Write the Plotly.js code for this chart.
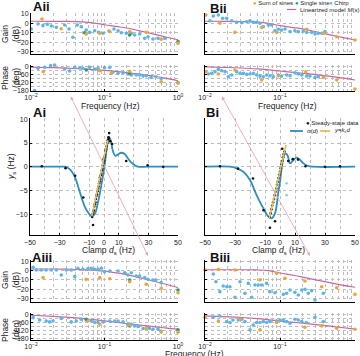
<!DOCTYPE html>
<html><head><meta charset="utf-8">
<script src="https://cdn.plot.ly/plotly-3.0.1.min.js"></script>
<style>html,body{margin:0;padding:0;background:#fff}#chart{width:360px;height:356px}</style>
</head><body><div id="chart"></div>
<script>
// ---------- Linearized model M(s) ----------
const modelFreq = [0.01,0.02,0.03,0.05,0.07,0.1,0.15,0.2,0.3,0.5,0.7,1.0];
const aiiModelGain = [2.2,2.1,2.0,1.5,0.5,-1.5,-3.5,-5,-8,-12,-14.8,-17.5];
const aiiModelPhase = [-3,-7,-11,-17,-22,-28,-37,-45,-57,-75,-90,-108];
const biiModelGain = [2.2,2.1,1.9,1.3,0,-2.5,-4.5,-6,-9,-12.8,-15.2,-17.8];
const biiModelPhase = [-1,-6,-10,-17,-24,-33,-43,-50,-60,-76,-88,-102];
const aiiiModelGain = [1.8,1.8,1.6,1.2,0.5,-0.5,-2.5,-4.2,-7.5,-12,-15,-18.3];
const aiiiModelPhase = [-2,-10,-16,-26,-35,-45,-56,-64,-76,-90,-99,-107];
const biiiModelGain = [1,1,1,0.8,0,-2.5,-5,-7,-10,-13.5,-16,-18];
const biiiModelPhase = [-7,-14,-19,-28,-36,-45,-55,-62,-72,-86,-96,-107];

// ---------- Aii ----------
const aiiGainChirpF = [0.0101,0.01245,0.01456,0.0167,0.0189,0.0221,0.0287,0.0329,0.0372,0.0426,0.0483,0.0565,0.0628,0.0736,0.0834,0.0955,0.115,0.1346,0.153,0.169,0.198,0.232,0.257,0.301,0.352,0.391,0.457,0.535,0.659];
const aiiGainChirpV = [-6.1,-0.7,-2.5,-1.1,-2.9,-4.3,-1.8,-6.1,-14.9,-1.8,-3.6,-7.1,-9.6,-7.9,-9.6,-10.6,-8.2,-6.1,-7.9,-10,-10.6,-10.6,-12.4,-11.4,-16,-14.3,-16.7,-16,-16];
const aiiGainSosF = [0.0097,0.0141,0.0258,0.0565,0.086,0.118,0.22,0.37,0.59,1.0];
const aiiGainSosV = [1.7,4.6,-5.8,-11.4,-10.6,-8.9,-8.9,-9.6,-17,-21.3];
const aiiGainSingleF = [0.0097,0.0536,0.22,1.0];
const aiiGainSingleV = [-6.4,-10,-12.4,-19.5];
const aiiPhaseChirpF = [0.0112,0.01245,0.0154,0.0185,0.021,0.0287,0.0336,0.0393,0.046,0.051,0.0628,0.0736,0.0816,0.1,0.118,0.13,0.153,0.179,0.208,0.232,0.27,0.301,0.335,0.37,0.43,0.5,0.59];
const aiiPhaseChirpV = [-182,-12,-5,8,13,-18,-33,-5,-8,-12,-5,-18,-12,-8,-5,-43,-51,-46,-56,-64,-64,-64,-72,-69,-82,-77,-90];
const aiiPhaseSosF = [0.0097,0.0147,0.0258,0.086,0.124,0.22,0.59,1.0];
const aiiPhaseSosV = [-82,-38,31,-31,-51,-35,-115,-125];
const aiiPhaseSingleF = [0.0097,0.0565,0.22,1.0];
const aiiPhaseSingleV = [-38,-25,-51,-123];

// ---------- Bii ----------
const biiGainChirpF = [0.01166,0.0129,0.01506,0.0172,0.01946,0.0227,0.0264,0.0308,0.036,0.0398,0.044,0.0489,0.0541,0.06,0.0699,0.0774,0.0857,0.095,0.105,0.1166,0.136,0.158,0.1755,0.2047,0.227,0.264,0.293,0.324,0.36,0.398];
const biiGainChirpV = [2.8,7.8,8.8,5.3,5.3,2.8,1.1,0.7,1.7,2.8,1.1,1.1,0,-3.6,-1.8,-1.8,-7.9,-6.4,-7.1,-6.1,-8.9,-7.9,-8.9,-8.2,-9.6,-9.6,-11.4,-10.6,-10.6,-8.9];
const biiGainSosF = [0.0103,0.0158,0.0251,0.057,0.0903,0.227,0.378,0.57,1.0];
const biiGainSosV = [8.8,0,-9.6,-4.3,-9.6,-6.4,-10.6,-14.3,-17.8];
const biiPhaseChirpF = [0.0111,0.0123,0.0136,0.01506,0.0167,0.0185,0.0205,0.0227,0.0264,0.0293,0.0324,0.036,0.0398,0.044,0.0489,0.0541,0.06,0.0664,0.0736,0.0815,0.095,0.105,0.1227,0.136,0.158,0.1755,0.1946,0.227,0.251,0.293,0.324];
const biiPhaseChirpV = [-56,-51,-38,-20,-31,-38,-77,-64,-38,-51,-51,-59,-56,-51,-64,-72,-77,-64,-69,-77,-64,-72,-64,-69,-46,-56,-64,-72,-72,-82,-77];
const biiPhaseSosF = [0.0103,0.01506,0.0251,0.057,0.095,0.22,0.378,0.57,1.0];
const biiPhaseSosV = [-38,-56,-25,-102,-69,-40,-82,-102,-171];

// ---------- Aiii ----------
const aiiiGainChirpF = [0.0107,0.0118,0.0138,0.0161,0.0189,0.0221,0.0258,0.0302,0.0353,0.0393,0.0435,0.0509,0.0597,0.0662,0.0736,0.0816,0.0906,0.1,0.118,0.153,0.188,0.208,0.232,0.27,0.301,0.352,0.391,0.457,0.5,0.59];
const aiiiGainChirpV = [3.7,0.8,0.8,0.8,0.8,0.8,-4.7,0.8,0.8,-6.5,2.6,1.5,2.2,2.6,1.5,1.5,2.6,-1.1,-0.3,-0.3,-2.2,-4.7,-2.2,-5.8,-5.8,-7.6,-9.4,-10.1,-10.1,-13];
const aiiiGainSosF = [0.0097,0.0146,0.0565,0.086,0.118,0.22,0.37,0.59,1.0];
const aiiiGainSosV = [0.8,-7.6,-9.4,-7.6,-8.7,-12,-14.8,-19.1,-23.9];
const aiiiGainSingleF = [0.0097,0.22,1.0];
const aiiiGainSingleV = [8,-10.1,-21];
const aiiiPhaseChirpF = [0.0107,0.0131,0.0161,0.0179,0.0199,0.0258,0.0353,0.0413,0.0483,0.0565,0.0662,0.0736,0.0816,0.0955,0.118,0.138,0.153,0.179,0.208,0.232,0.257,0.285,0.335,0.37,0.41,0.457,0.535,0.59];
const aiiiPhaseChirpV = [-20,-37.5,-45,-52,-45,-27,-52,-45,-32,-37.5,-45,-57,-57,-52,-45,-45,-45,-52,-70,-70,-82,-87,-102,-102,-102,-107,-107,-120];
const aiiiPhaseSosF = [0.0097,0.0142,0.0597,0.086,0.22,0.37,0.59,1.0];
const aiiiPhaseSosV = [-20,37,-45,-70,-77,-102,-127,-130];
const aiiiPhaseSingleF = [0.0097,0.0565,0.22,1.0];
const aiiiPhaseSingleV = [-7.5,-32,-82,-112];

// ---------- Biii ----------
const biiiGainChirpF = [0.0129,0.014,0.0158,0.0175,0.0195,0.0215,0.0251,0.0293,0.0341,0.0378,0.0419,0.0464,0.0514,0.057,0.0664,0.0736,0.0857,0.1107,0.1227,0.136,0.158,0.1755,0.1946,0.2154,0.2387,0.264,0.293,0.378];
const biiiGainChirpV = [-3.6,-12,-22.8,-16.6,-17.4,-17.4,-28.9,-12,-24.6,-13.8,-28.9,-15.5,-15.5,-15.5,-13.8,-22.8,-23.9,-25.7,-24.6,-21,-23.5,-26.4,-21,-20.3,-24.6,-21.7,-31.8,-24.6];
const biiiGainSosF = [0.01,0.0151,0.0251,0.0541,0.0903,0.1166,0.215,0.36,0.57,1.0];
const biiiGainSosV = [0.8,1.5,0.8,-10,-2.9,-8.3,-11.2,-17.4,-18.5,-25.7];
const biiiPhaseChirpF = [0.0129,0.0158,0.0195,0.0215,0.0236,0.0278,0.0308,0.0341,0.0398,0.044,0.0489,0.0541,0.06,0.0664,0.0736,0.0903,0.1,0.1107,0.1227,0.136,0.158,0.1755,0.1946,0.2247,0.293,0.378];
const biiiPhaseChirpV = [-17,-7.5,-50,-57,-37.5,-37.5,-32,-50,-112,-75,-57,-57,-50,-57,-50,-45,-37.5,-37.5,-50,-62,-32,-37.5,-50,-57,-17,-50];
const biiiPhaseSosF = [0.01,0.0151,0.0293,0.0541,0.0903,0.215,0.36,0.57,1.0];
const biiiPhaseSosV = [-17,-45,-32,-112,-57,-92,-82,-100,-107];

// ---------- Ai / Bi steady state ----------
const aiSigmaD = [-50,-30,-26.6,-23.2,-19.8,-16.4,-13,-10.4,-8.6,-6.3,-4,-1.8,0.45,2.2,3.4,4.5,6.1,7.7,9.5,11.7,13.9,16.1,18.4,20.7,23,30,50];
const aiSigmaY = [0,0,0,-0.5,-2.1,-5.3,-8.4,-9.8,-10.4,-10,-7.4,-3.9,0.4,4.6,6.3,5.6,3.2,2.3,2.6,2.95,2.7,1.8,0.9,0.35,0,0,0];
const aiLinD = [-8.2,2.5];
const aiLinY = [-10.5,5.6];
const aiDataD = [-42,-26,-19.5,-14,-7.4,-8,-7.6,-7.2,-7,-6.6,-6.2,-5.8,-5.5,-5.1,-4.8,-4.4,-4,-3.7,-3.3,-3,-2.6,-2.2,-1.9,-1.5,-1.2,-0.8,-0.4,0,0.3,0.7,1,1.4,1.8,2.2,2.6,3,3.5,3.2,-2.8,-0.2,4.2,5.5,15,29.5,40];
const aiDataY = [0.1,-0.3,-1.9,-6.5,-12.3,-10.6,-10,-9.5,-9.2,-8.4,-7.9,-7.5,-6.8,-6.2,-5.8,-5.2,-4.6,-4.2,-3.5,-3.1,-2.6,-1.8,-1.5,-0.8,-0.5,0.3,0.8,1.3,2,2.5,3.3,3.7,4.3,5,5.6,6.2,7.1,5.9,-2.3,1.6,5.4,4.8,1.2,0.3,0];
const biSigmaD = [-50,-33.3,-28.9,-24.4,-20,-15.6,-11.1,-7.8,-5.6,-3.3,-1.1,0,1.1,2.2,3.3,4.9,6.7,8.9,11.1,12.9,15.6,18.9,22,50];
const biSigmaY = [0,0,-0.35,-1.05,-2.8,-6,-8.8,-10.5,-10.9,-9.8,-5.3,-3.2,-0.35,1.8,2.8,2.5,0.7,1.4,1.9,1.6,0.7,0.15,0,0];
const biLinD = [-7.1,4.0];
const biLinY = [-10.9,4.6];
const biDataD = [-40,-28,-18,-11,-6.7,-3.3,-6.8,-6.2,-5.7,-5.2,-4.6,-4,-3.5,-3,-2.5,-2,-1.5,-1,-0.5,0,0.5,1,1.5,2,2.5,3,1.5,5.5,8.5,12,17,30,40];
const biDataY = [0.1,-0.4,-2.5,-9.2,-12.9,-11.5,-10.6,-9.8,-9,-8.2,-7.5,-6.8,-6,-5.3,-4.6,-3.8,-3.2,-2.4,-1.7,-1,-0.3,0.5,1.2,2,2.6,3.2,3.8,1.2,1.6,1.5,0.1,0,0.1];
const biOtherD = [4.4,4.4];
const biOtherY = [-3.5,-6];

// ---------- styling ----------
const C_SOS = '#E9A53C', C_SINGLE = '#2A9A78', C_CHIRP = '#5DB5E6', C_MODEL = '#C8679B';
const C_SIGMA = '#2E8DC2', C_LIN = '#E8BE5A', C_ARROW = '#E4A6BF';
const FONT = 'Liberation Sans, Arial, sans-serif';
const W = 360, H = 356;
const px = v => v / W, py = v => 1 - v / H;
const GRID = '#bdbdbd';

const logMinor = [];
[0.01, 0.1].forEach(dec => { for (let m = 2; m <= 9; m++) logMinor.push(dec * m); });

const baseAx = {
  showline: true, linecolor: '#000', linewidth: 1, ticks: 'inside', ticklen: 2, tickcolor: '#000',
  showgrid: true, gridcolor: GRID, griddash: 'dot', gridwidth: 1, zeroline: false,
  tickfont: { size: 7, family: FONT, color: '#222' }, fixedrange: true, mirror: false
};
function minor(vals) {
  return { tickmode: 'array', tickvals: vals, showgrid: true, gridcolor: GRID, griddash: 'dot', gridwidth: 1, ticklen: 0 };
}
function xLog(domain, anchor, labels) {
  return Object.assign({}, baseAx, { type: 'log', range: [-2, 0], domain, anchor, tickmode: 'array',
    tickvals: [0.01, 0.1, 1], ticktext: ['10<sup>−2</sup>', '10<sup>−1</sup>', '10<sup>0</sup>'],
    showticklabels: labels, minor: minor(logMinor) });
}
function yAx(domain, anchor, range, vals, text, labels, mvals) {
  const o = Object.assign({}, baseAx, { range, domain, anchor, tickmode: 'array', tickvals: vals,
    ticktext: text, showticklabels: labels });
  if (mvals) o.minor = minor(mvals);
  return o;
}
const gainVals = [10, 0, -10, -20, -30], gainText = ['10', '0', '−10', '−20', '−30'];
const phVals = [0, -60, -120, -180], phText = ['0', '−60', '−120', '−180'], phMinor = [-30, -90, -150];
const dVals = [-50, -30, -10, 0, 10, 30, 50], dText = ['−50', '−30', '−10', '0', '10', '30', '50'];
const dMinor = [-40, -20, 20, 40];
const yVals = [10, 5, 0, -5, -10], yText = ['10', '5', '0', '−5', '−10'];

const LX = [px(31), px(178)], RX = [px(205), px(355)];
const GAIN1 = [py(54), py(13)], PH1 = [py(91), py(65)];
const MID = [py(235.4), py(118.4)];
const GAIN3 = [py(301.7), py(260)], PH3 = [py(340), py(312.7)];

function dAx(domain, anchor) {
  return Object.assign({}, baseAx, { range: [-50, 50], domain, anchor, tickmode: 'array',
    tickvals: dVals, ticktext: dText, minor: minor(dMinor) });
}

const layout = {
  width: W, height: H, margin: { l: 0, r: 0, t: 0, b: 0 }, paper_bgcolor: '#fff', plot_bgcolor: '#fff',
  showlegend: false, font: { family: FONT, size: 9, color: '#222' },
  xaxis: xLog(LX, 'y', false), yaxis: yAx(GAIN1, 'x', [-32.7, 11], gainVals, gainText, true),
  xaxis2: xLog(LX, 'y2', true), yaxis2: yAx(PH1, 'x2', [-186, 13], phVals, phText, true, phMinor),
  xaxis3: xLog(RX, 'y3', false), yaxis3: yAx(GAIN1, 'x3', [-32.7, 11], gainVals, gainText, false),
  xaxis4: xLog(RX, 'y4', true), yaxis4: yAx(PH1, 'x4', [-186, 13], phVals, phText, false, phMinor),
  xaxis5: dAx([px(30), px(178)], 'y5'),
  yaxis5: yAx(MID, 'x5', [-14.5, 10.2], yVals, yText, true),
  xaxis6: dAx(RX, 'y6'),
  yaxis6: yAx(MID, 'x6', [-14.5, 10.2], yVals, yText, false),
  xaxis7: xLog(LX, 'y7', false), yaxis7: yAx(GAIN3, 'x7', [-33.7, 11.6], gainVals, gainText, true),
  xaxis8: xLog(LX, 'y8', true), yaxis8: yAx(PH3, 'x8', [-188, 17], phVals, phText, true, phMinor),
  xaxis9: xLog(RX, 'y9', false), yaxis9: yAx(GAIN3, 'x9', [-33.7, 11.6], gainVals, gainText, false),
  xaxis10: xLog(RX, 'y10', true), yaxis10: yAx(PH3, 'x10', [-188, 17], phVals, phText, false, phMinor),
  annotations: [], shapes: []
};

const traces = [];
function pts(x, y, color, ax, size) {
  traces.push({ type: 'scatter', mode: 'markers', x, y, xaxis: 'x' + ax, yaxis: 'y' + ax, cliponaxis: false,
    marker: { color, size: size || 3.6, line: { width: 0 } }, hoverinfo: 'skip' });
}
function line(x, y, color, ax, w, shape) {
  traces.push({ type: 'scatter', mode: 'lines', x, y, xaxis: 'x' + ax, yaxis: 'y' + ax,
    line: { color, width: w || 1.3, shape: shape || 'spline' }, hoverinfo: 'skip' });
}
function bode(ax, mf, mv, chF, chV, sF, sV, gF, gV) {
  line(mf, mv, C_MODEL, ax, 1.2);
  pts(chF, chV, C_CHIRP, ax);
  if (gF) pts(gF, gV, C_SINGLE, ax);
  pts(sF, sV, C_SOS, ax);
}
bode('', modelFreq, aiiModelGain, aiiGainChirpF, aiiGainChirpV, aiiGainSosF, aiiGainSosV, aiiGainSingleF, aiiGainSingleV);
bode('2', modelFreq, aiiModelPhase, aiiPhaseChirpF, aiiPhaseChirpV, aiiPhaseSosF, aiiPhaseSosV, aiiPhaseSingleF, aiiPhaseSingleV);
bode('3', modelFreq, biiModelGain, biiGainChirpF, biiGainChirpV, biiGainSosF, biiGainSosV);
bode('4', modelFreq, biiModelPhase, biiPhaseChirpF, biiPhaseChirpV, biiPhaseSosF, biiPhaseSosV);
bode('7', modelFreq, aiiiModelGain, aiiiGainChirpF, aiiiGainChirpV, aiiiGainSosF, aiiiGainSosV, aiiiGainSingleF, aiiiGainSingleV);
bode('8', modelFreq, aiiiModelPhase, aiiiPhaseChirpF, aiiiPhaseChirpV, aiiiPhaseSosF, aiiiPhaseSosV, aiiiPhaseSingleF, aiiiPhaseSingleV);
bode('9', modelFreq, biiiModelGain, biiiGainChirpF, biiiGainChirpV, biiiGainSosF, biiiGainSosV);
bode('10', modelFreq, biiiModelPhase, biiiPhaseChirpF, biiiPhaseChirpV, biiiPhaseSosF, biiiPhaseSosV);

line(aiSigmaD, aiSigmaY, C_SIGMA, '5', 1.8);
pts(aiDataD, aiDataY, '#111', '5', 2.6);
line(aiLinD, aiLinY, C_LIN, '5', 1.6, 'linear');
line(biSigmaD, biSigmaY, C_SIGMA, '6', 1.8);
pts(biDataD, biDataY, '#111', '6', 2.6);
pts(biOtherD, biOtherY, '#8fd3cf', '6', 2.6);
line(biLinD, biLinY, C_LIN, '6', 1.6, 'linear');

const A = layout.annotations, S = layout.shapes;
function txt(x, y, text, o) {
  A.push(Object.assign({ xref: 'paper', yref: 'paper', x: px(x), y: py(y), text, showarrow: false,
    xanchor: 'center', yanchor: 'middle', font: { family: FONT, size: 8.5, color: '#222' } }, o || {}));
}
const bold = { xanchor: 'left', font: { family: FONT, size: 13, color: '#111' } };
txt(31, 7, '<b>Aii</b>', bold);
txt(208, 8, '<b>Bii</b>', bold);
txt(31, 112, '<b>Ai</b>', bold);
txt(204, 113, '<b>Bi</b>', bold);
txt(30, 257, '<b>Aiii</b>', bold);
txt(208, 257, '<b>Biii</b>', bold);
const rot = { textangle: -90 };
txt(10, 34, 'Gain<br>(dB)', rot);
txt(10, 78, 'Phase<br>(deg)', rot);
txt(10, 280, 'Gain<br>(dB)', rot);
txt(10, 330, 'Phase<br>(deg)', rot);
txt(11, 167, '<i>y</i><sub>s</sub> (Hz)', rot);
txt(110, 106, 'Frequency (Hz)');
txt(287, 106, 'Frequency (Hz)');
txt(108, 250, 'Clamp <i>d</i><sub>s</sub> (Hz)');
txt(278, 250, 'Clamp <i>d</i><sub>s</sub> (Hz)');
txt(194, 354, 'Frequency (Hz)');

// legend (top right)
const lg = { xanchor: 'left', font: { family: FONT, size: 6, color: '#222' } };
txt(251, 3.5, '<span style="color:' + C_SOS + '">●</span> Sum of sines', lg);
txt(293, 3.5, '<span style="color:' + C_SINGLE + '">●</span> Single sine', lg);
txt(327, 3.5, '<span style="color:' + C_CHIRP + '">●</span> Chirp', lg);
S.push({ type: 'line', xref: 'paper', yref: 'paper', x0: px(287), x1: px(296), y0: py(9.5), y1: py(9.5), line: { color: C_MODEL, width: 1.2 } });
txt(298, 9.5, 'Linearized model <i>M</i>(<i>s</i>)', lg);
// legend Bi
txt(304, 123, '<span style="color:#111">●</span> Steady-state data', lg);
S.push({ type: 'line', xref: 'paper', yref: 'paper', x0: px(290), x1: px(303), y0: py(131), y1: py(131), line: { color: C_SIGMA, width: 1.8 } });
txt(305, 131, '<i>σ</i>(<i>d</i>)', lg);
S.push({ type: 'line', xref: 'paper', yref: 'paper', x0: px(320), x1: px(330), y0: py(131), y1: py(131), line: { color: C_LIN, width: 1.8 } });
txt(332, 131, '<i>y</i>=<i>k</i><sub>c</sub><i>d</i>', lg);

// arrows
function arrow(x0, y0, x1, y1) {
  A.push({ xref: 'paper', yref: 'paper', x: px(x1), y: py(y1), axref: 'pixel', ayref: 'pixel',
    ax: x0 - x1, ay: y0 - y1, text: '', showarrow: true, arrowhead: 2, startarrowhead: 2,
    arrowside: 'end+start', arrowsize: 0.8, startarrowsize: 0.8, arrowwidth: 0.9, arrowcolor: C_ARROW });
}
arrow(70, 95, 148, 256);
arrow(221, 95, 310, 256);

Plotly.newPlot('chart', traces, layout, { staticPlot: true, displayModeBar: false });
</script></body></html>
